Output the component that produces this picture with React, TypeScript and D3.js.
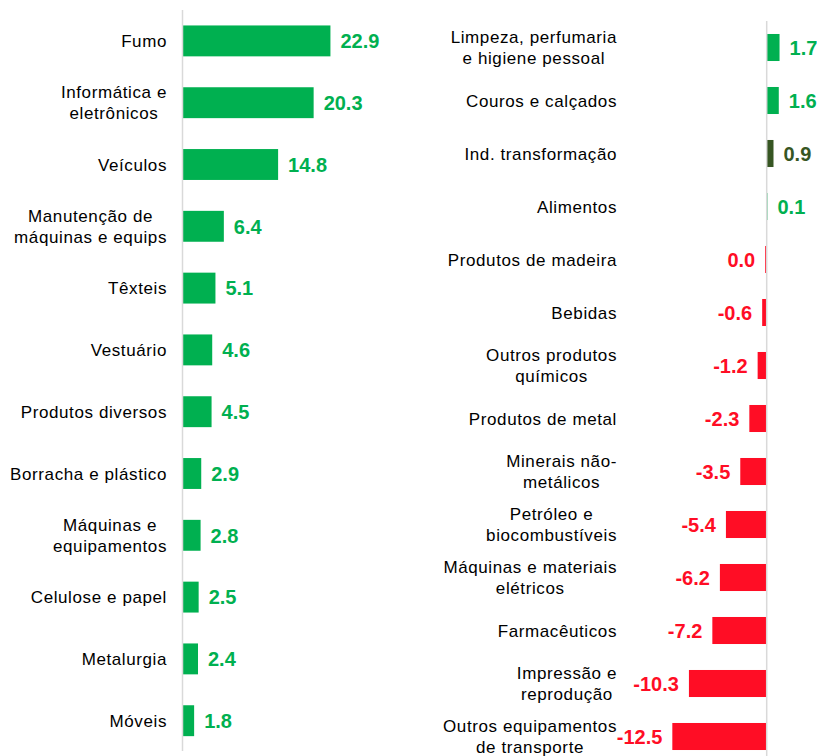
import React from "react";
import * as d3 from "d3";

// Left panel
const leftCategories = [
  "Fumo",
  "Informática e\neletrônicos",
  "Veículos",
  "Manutenção de\nmáquinas e equips",
  "Têxteis",
  "Vestuário",
  "Produtos diversos",
  "Borracha e plástico",
  "Máquinas e\nequipamentos",
  "Celulose e papel",
  "Metalurgia",
  "Móveis",
];
const leftValues = [22.9, 20.3, 14.8, 6.4, 5.1, 4.6, 4.5, 2.9, 2.8, 2.5, 2.4, 1.8];

// Right panel
const rightCategories = [
  "Limpeza, perfumaria\ne higiene pessoal",
  "Couros e calçados",
  "Ind. transformação",
  "Alimentos",
  "Produtos de madeira",
  "Bebidas",
  "Outros produtos\nquímicos",
  "Produtos de metal",
  "Minerais não-\nmetálicos",
  "Petróleo e\nbiocombustíveis",
  "Máquinas e materiais\nelétricos",
  "Farmacêuticos",
  "Impressão e\nreprodução",
  "Outros equipamentos\nde transporte",
];
const rightValues = [1.7, 1.6, 0.9, 0.1, 0.0, -0.6, -1.2, -2.3, -3.5, -5.4, -6.2, -7.2, -10.3, -12.5];
// kind of each right bar: "pos" | "neg" | "total"
const rightKinds = ["pos", "pos", "total", "pos", "neg", "neg", "neg", "neg", "neg", "neg", "neg", "neg", "neg", "neg"];

const GREEN = "#00B050";
const RED = "#FF0D25";
const DARK = "#375623";
const AXIS = "#D9D9D9";
const FONT = "'Liberation Sans', Arial, sans-serif";
const CAT_SIZE = 17;
const CAT_LS = 0.6;

const fmt = (v: number) => d3.format(".1f")(v).replace("\u2212", "-");
const colorOf = (kind: string) => (kind === "total" ? DARK : kind === "neg" ? RED : GREEN);

function CatLabel({ text, x, y }: { text: string; x: number; y: number }) {
  const lines = text.split("\n");
  const lh = 21;
  const n = lines.length;
  if (n === 1) {
    return (
      <text x={x} y={y + 6} textAnchor="end" fontSize={CAT_SIZE} letterSpacing={CAT_LS} fill="#000" fontFamily={FONT}>
        {lines[0]}
      </text>
    );
  }
  const ctx = document.createElement("canvas").getContext("2d")!;
  ctx.font = `${CAT_SIZE}px ${FONT}`;
  const widths = lines.map((l) => ctx.measureText(l).width + l.length * CAT_LS);
  const maxW = Math.max(...widths);
  const cx = x - maxW / 2;
  return (
    <text textAnchor="middle" fontSize={CAT_SIZE} letterSpacing={CAT_LS} fill="#000" fontFamily={FONT}>
      {lines.map((l, i) => (
        <tspan key={i} x={cx} y={y + 6 + (i - (n - 1) / 2) * lh}>
          {l}
        </tspan>
      ))}
    </text>
  );
}

export default function App() {
  const W = 817;
  const H = 756;

  const xL = d3.scaleLinear().domain([0, 25]).range([182.5, 344]);
  const yL = d3.scaleBand<string>().domain(leftCategories).range([10, 751.6]).paddingInner(0.5).paddingOuter(0.25);

  const xR = d3.scaleLinear().domain([-14, 2]).range([661, 781.8]);
  const yR = d3.scaleBand<string>().domain(rightCategories).range([21, 763]).paddingInner(0.49).paddingOuter(0.245);

  return (
    <svg width={W} height={H} style={{ position: "absolute", left: 0, top: 0, background: "#fff" }} fontFamily={FONT}>
      <rect width={W} height={H} fill="#fff" />
      {leftCategories.map((c, i) => {
        const v = leftValues[i];
        const y = yL(c)!;
        const bh = yL.bandwidth();
        const x0 = xL(0);
        const x1 = xL(v);
        return (
          <g key={c}>
            <rect x={x0} y={y} width={x1 - x0} height={bh} fill={GREEN} />
            <text x={x1 + 10} y={y + bh / 2} dy="0.36em" fontSize={20} fontWeight="bold" fill={GREEN}>
              {fmt(v)}
            </text>
            <CatLabel text={c} x={167} y={y + bh / 2} />
          </g>
        );
      })}
      <line x1={xL(0)} x2={xL(0)} y1={10} y2={751} stroke={AXIS} strokeWidth={1.5} />

      {rightCategories.map((c, i) => {
        const v = rightValues[i];
        const kind = rightKinds[i];
        const col = colorOf(kind);
        const y = yR(c)!;
        const bh = yR.bandwidth();
        const x0 = xR(0);
        const x1 = xR(v);
        let bx = Math.min(x0, x1);
        let bw = Math.abs(x1 - x0);
        if (kind === "neg" && bw < 1.5) {
          bw = 1.5;
          bx = x0 - 1.5;
        }
        const neg = kind === "neg";
        return (
          <g key={c}>
            <rect x={bx} y={y} width={bw} height={bh} fill={col} />
            <text
              x={neg ? bx - 10 : bx + bw + 10}
              y={y + bh / 2}
              dy="0.36em"
              textAnchor={neg ? "end" : "start"}
              fontSize={20}
              fontWeight="bold"
              fill={col}
            >
              {fmt(v)}
            </text>
            <CatLabel text={c} x={617} y={y + bh / 2} />
          </g>
        );
      })}
      <line x1={xR(0)} x2={xR(0)} y1={21} y2={756} stroke={AXIS} strokeWidth={1.5} />
    </svg>
  );
}
